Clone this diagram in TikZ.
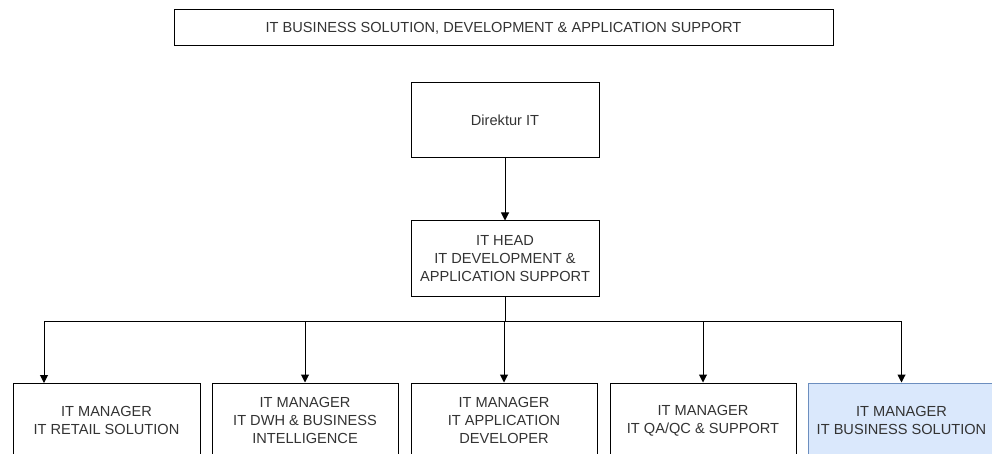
\documentclass[tikz,border=0pt]{standalone}
\usepackage{fontspec}
\setmainfont{Liberation Sans}
\usetikzlibrary{arrows.meta,positioning}
\definecolor{txt}{HTML}{333333}
\definecolor{bluefill}{HTML}{DAE8FC}
\definecolor{blueline}{HTML}{6C8EBF}
\tikzset{
  box/.style={draw=black, line width=1pt, rectangle, align=center, inner sep=0pt,
    minimum width=#1, minimum height=75pt, text=txt,
    font=\fontsize{14.6}{18.3}\selectfont},
  box/.default=187pt,
  arr/.style={line width=1pt, -{Triangle[length=8pt,width=8pt]}},
  ln/.style={line width=1pt}
}
\begin{document}
\begin{tikzpicture}[x=1pt,y=-1pt]
\useasboundingbox (0,0) rectangle (992,454);
\clip (0,0) rectangle (992,454);
\node[box=659pt, minimum height=36pt] (top) at (503.5,28) {IT BUSINESS SOLUTION, DEVELOPMENT \& APPLICATION SUPPORT};
\node[box=188pt] (dir) at (505,120.5) {Direktur IT};
\node[box=188pt] (head) at (505,258.5) {IT HEAD\\IT DEVELOPMENT \&\\APPLICATION SUPPORT};
\node[box=187pt] (b1) at (106.5,420.5) {IT MANAGER\\IT RETAIL SOLUTION};
\node[box=186pt] (b2) at (305,420.5) {IT MANAGER\\IT DWH \& BUSINESS\\INTELLIGENCE};
\node[box=186pt] (b3) at (504,420.5) {IT MANAGER\\IT APPLICATION\\DEVELOPER};
\node[box=186pt] (b4) at (703,420.5) {IT MANAGER\\IT QA/QC \& SUPPORT};
\node[box=187pt, fill=bluefill, draw=blueline] (b5) at (901.5,420.5) {IT MANAGER\\IT BUSINESS SOLUTION};
\coordinate (j) at (505,321);
\coordinate (t1) at (44,383);
\draw[arr] (dir) -- (head);
\draw[ln] (head.south) -- (j);
\draw[arr] (j) -| (t1);
\draw[arr] (j) -| (b2.north);
\draw[arr] (j) -| (b3.north);
\draw[arr] (j) -| (b4.north);
\draw[arr] (j) -| (b5.north);
\end{tikzpicture}
\end{document}
